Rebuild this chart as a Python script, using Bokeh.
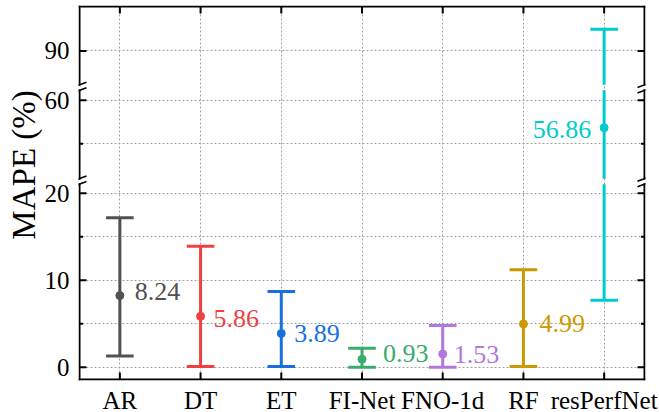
from bokeh.plotting import figure
from bokeh.models import ColumnDataSource, FixedTicker, Range1d, Title
from bokeh.core.properties import value
from bokeh.embed import file_html
from bokeh.resources import INLINE

# ---------------- data ----------------
models = ["AR", "DT", "ET", "FI-Net", "FNO-1d", "RF", "resPerfNet"]
mape_mean = [8.24, 5.86, 3.89, 0.93, 1.53, 4.99, 56.86]
mape_low = [1.3, 0.1, 0.1, 0.0, 0.0, 0.1, 7.7]
mape_high = [17.2, 13.9, 8.7, 2.2, 4.8, 11.2, 92.5]
colors = ["#515151", "#F14040", "#1A6FDF", "#37AD6B", "#B177DE", "#CC9900", "#00CBCC"]

# broken y axis: visible value windows, bottom to top
segments = [(-1.4, 21.05), (51.0, 61.15), (86.1, 95.1)]
major_ticks = [0, 10, 20, 60, 90]
minor_ticks = [5, 15, 55]

# label placement (style, pixels)
lab_dx = [15, 13, 13, 21, 11, 16, -13]
lab_dy = [-4, 2, 0, -6, 0, 0, 2]
lab_align = ["left"] * 6 + ["right"]

# ---------------- geometry ----------------
GAP_PX = 5.5
FRAME_W, FRAME_H = 567, 375
PAD = 1.0  # px between frame edge and drawn spine

n = len(models)
xs = list(range(n))
xl, xr = -0.5, n - 0.5
PX_X = (FRAME_W - 2 * PAD) / (xr - xl)

total_units = sum(hi - lo for lo, hi in segments)
PX_Y = (FRAME_H - 2 * PAD - GAP_PX * (len(segments) - 1)) / total_units
GAP = GAP_PX / PX_Y

starts = []
cur = segments[0][0]
for lo, hi in segments:
    starts.append(cur)
    cur += (hi - lo) + GAP


def d_in(v, i):
    return starts[i] + (v - segments[i][0])


def seg_of(v):
    for i, (lo, hi) in enumerate(segments):
        if lo <= v <= hi:
            return i
    return None


def to_d(v):
    return d_in(v, seg_of(v))


yb = d_in(segments[0][0], 0)
yt = d_in(segments[-1][1], len(segments) - 1)

FONT = "'Times New Roman', 'Liberation Serif', Tinos, serif"

p = figure(width=659, height=412, frame_width=FRAME_W, frame_height=FRAME_H,
           min_border_left=78, min_border_right=659 - 78 - FRAME_W,
           min_border_top=5, min_border_bottom=412 - 5 - FRAME_H,
           output_backend="svg", toolbar_location=None,
           x_range=Range1d(xl - PAD / PX_X, xr + PAD / PX_X),
           y_range=Range1d(yb - PAD / PX_Y, yt + PAD / PX_Y))
p.outline_line_color = None
p.background_fill_color = "white"
p.border_fill_color = "white"

# ---------------- grid lines (native) ----------------
grid_ticks = sorted(to_d(t) for t in major_ticks + minor_ticks)
p.xgrid.ticker = FixedTicker(ticks=xs)
p.ygrid.ticker = FixedTicker(ticks=grid_ticks)
for g in (p.xgrid, p.ygrid):
    g.grid_line_color = "#a0a0a0"
    g.grid_line_width = 1
    g.grid_line_dash = [2, 2]

# ---------------- error bars ----------------
ex0, ey0, ex1, ey1, ec = [], [], [], [], []
CAP = 13.8 / PX_X
for x, lo_v, hi_v, c in zip(xs, mape_low, mape_high, colors):
    for i, (lo, hi) in enumerate(segments):
        a = max(lo_v, lo)
        b = min(hi_v, hi)
        if a < b:
            ex0.append(x); ex1.append(x)
            ey0.append(d_in(a, i)); ey1.append(d_in(b, i)); ec.append(c)
    for v in (lo_v, hi_v):
        if seg_of(v) is not None:
            d = to_d(v)
            ex0.append(x - CAP); ex1.append(x + CAP)
            ey0.append(d); ey1.append(d); ec.append(c)
p.segment(ex0, ey0, ex1, ey1, line_color=ec, line_width=3)

src = ColumnDataSource(dict(
    x=xs, y=[to_d(v) for v in mape_mean], c=colors,
    txt=["%.2f" % v for v in mape_mean], dx=lab_dx, dy=lab_dy, al=lab_align))
p.scatter("x", "y", source=src, size=8, fill_color="c", line_color="c")
p.text("x", "y", text="txt", source=src, text_color="c", x_offset="dx",
       y_offset="dy", text_align="al", text_baseline="middle",
       text_font=value(FONT), text_font_size="26px")

# ---------------- spines, ticks, break marks ----------------
sx0, sy0, sx1, sy1 = [], [], [], []
for i, (lo, hi) in enumerate(segments):
    for x in (xl, xr):
        sx0.append(x); sx1.append(x)
        sy0.append(d_in(lo, i)); sy1.append(d_in(hi, i))
for y in (yb, yt):
    sx0.append(xl); sx1.append(xr); sy0.append(y); sy1.append(y)
p.segment(sx0, sy0, sx1, sy1, line_color="black", line_width=2,
          line_cap="square")

tx0, ty0, tx1, ty1 = [], [], [], []
for t in major_ticks + minor_ticks:
    ln = (7.0 if t in major_ticks else 3.5) / PX_X
    d = to_d(t)
    tx0 += [xl, xr]; tx1 += [xl + ln, xr - ln]; ty0 += [d, d]; ty1 += [d, d]
for x in xs:
    ln = 7.0 / PX_Y
    tx0 += [x, x]; tx1 += [x, x]; ty0 += [yb, yt]; ty1 += [yb + ln, yt - ln]
p.segment(tx0, ty0, tx1, ty1, line_color="black", line_width=2)

bx0, by0, bx1, by1 = [], [], [], []
DX = 7.0 / PX_X
DY = 2.6 / PX_Y
for i in range(len(segments) - 1):
    for d in (d_in(segments[i][1], i), d_in(segments[i + 1][0], i + 1)):
        for x in (xl, xr):
            bx0.append(x - DX); by0.append(d - DY)
            bx1.append(x + DX); by1.append(d + DY)
p.segment(bx0, by0, bx1, by1, line_color="black", line_width=1.6)

# ---------------- axes ----------------
ytick_pos = [to_d(t) for t in major_ticks]
p.yaxis.ticker = FixedTicker(ticks=ytick_pos)
p.yaxis.major_label_overrides = {d: str(t) for d, t in zip(ytick_pos, major_ticks)}
p.xaxis.ticker = FixedTicker(ticks=xs)
p.xaxis.major_label_overrides = {x: m for x, m in zip(xs, models)}
for ax in (p.xaxis, p.yaxis):
    ax.axis_line_color = None
    ax.major_tick_line_color = None
    ax.minor_tick_line_color = None
    ax.major_tick_in = 0
    ax.major_tick_out = 0
    ax.major_label_text_font = FONT
    ax.major_label_text_font_size = "25px"
    ax.major_label_text_color = "black"
p.xaxis.major_label_standoff = 6
p.yaxis.major_label_standoff = 9

p.add_layout(Title(text="\u00a0" * 6 + "\u2009MAPE (%)", align="center",
                   standoff=0, text_font=FONT, text_font_size="33px",
                   text_font_style="normal", text_color="black"), "left")

open("out.html", "w").write(file_html(p, INLINE))
